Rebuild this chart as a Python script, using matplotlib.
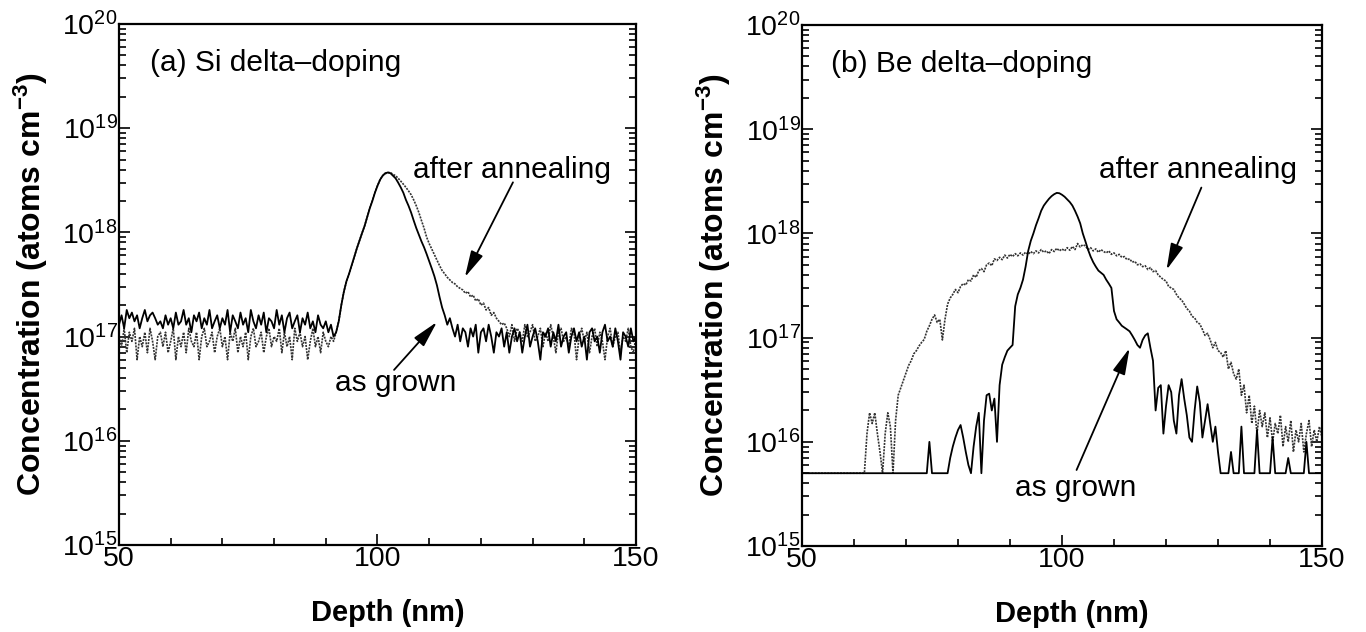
import numpy as np
import matplotlib.pyplot as plt
from matplotlib.ticker import LogLocator, MultipleLocator, LogFormatterSciNotation, NullFormatter

plt.rcParams['font.family'] = ['Liberation Sans', 'DejaVu Sans']
plt.rcParams['mathtext.default'] = 'regular'

# depth grid of the SIMS profiles (nm), 0.5 nm steps
depth = np.arange(50, 150.01, 0.5)

# (a) Si delta-doping, units of 1e17 atoms/cm3
si_grown = [
    1.3, 1.6, 1.2, 1.8, 1.5, 1.7, 1.4, 1.6, 1.2, 1.5,   # 50
    1.8, 1.4, 1.6, 1.7, 1.5, 1.3, 1.4, 1.2, 1.6, 1.3,   # 55
    1.5, 1.2, 1.7, 1.3, 1.4, 1.8, 1.3, 1.5, 1.1, 1.6,   # 60
    1.4, 1.7, 1.2, 1.5, 1.3, 1.8, 1.2, 1.4, 1.6, 1.2,   # 65
    1.5, 1.3, 1.8, 1.1, 1.6, 1.4, 1.2, 1.7, 1.3, 1.5,   # 70
    1.1, 1.8, 1.4, 1.2, 1.6, 1.3, 1.7, 1.1, 1.5, 1.4,   # 75
    1.2, 1.8, 1.3, 1.6, 1.1, 1.5, 1.7, 1.2, 1.4, 1.6,   # 80
    1.1, 1.5, 1.3, 1.7, 1.2, 1.4, 1.1, 1.6, 1.3, 1.2,   # 85
    1.4, 1.1, 1.3, 1.0, 1.1, 1.4, 2.0, 2.7, 3.4, 4.0,   # 90
    4.8, 5.8, 7.0, 8.3, 9.8, 11.5, 14, 17, 20, 24,      # 95
    28, 32, 35, 37, 37.5, 37, 35, 33, 30, 27,           # 100
    24, 20.5, 18, 15.5, 13, 11, 9.5, 8.2, 7.2, 6.2,     # 105
    5.3, 4.5, 3.8, 3.1, 2.4, 1.9, 1.6, 1.3, 1.5, 1.2,   # 110
    1.0, 1.3, 0.9, 1.2, 1.1, 0.8, 1.2, 1.0, 1.3, 0.7,   # 115
    1.1, 1.2, 0.9, 1.3, 1.0, 0.7, 1.1, 1.0, 1.2, 0.8,   # 120
    1.1, 0.7, 1.0, 1.2, 0.9, 1.1, 0.7, 1.0, 1.3, 0.8,   # 125
    1.0, 1.2, 0.9, 0.6, 1.1, 1.0, 1.2, 0.8, 1.1, 0.9,   # 130
    1.3, 0.8, 1.0, 1.1, 0.7, 1.0, 1.2, 0.9, 1.1, 0.8,   # 135
    1.0, 0.6, 1.1, 1.2, 0.9, 1.0, 0.7, 1.1, 1.3, 0.9,   # 140
    1.0, 0.8, 1.2, 0.9, 0.6, 1.1, 1.0, 0.8, 1.2, 0.9,   # 145
    1.0,
]
si_annealed = [
    1.0, 0.8, 1.2, 0.7, 1.1, 0.9, 1.2, 0.6, 1.0, 0.8,   # 50
    1.1, 0.7, 1.2, 0.9, 0.6, 1.0, 1.1, 0.8, 1.1, 0.7,   # 55
    0.9, 1.2, 0.6, 1.0, 0.8, 1.1, 0.7, 1.2, 0.9, 0.8,   # 60
    1.1, 0.6, 1.0, 1.2, 0.8, 0.9, 1.1, 0.7, 1.0, 1.2,   # 65
    0.8, 1.0, 0.6, 1.1, 0.9, 1.2, 0.7, 1.0, 0.8, 1.1,   # 70
    0.6, 1.0, 1.2, 0.8, 0.9, 1.1, 0.7, 1.0, 1.2, 0.8,   # 75
    1.0, 0.9, 1.2, 0.7, 1.1, 0.8, 1.0, 0.6, 1.2, 0.9,   # 80
    1.1, 0.8, 1.0, 0.6, 0.9, 1.2, 0.8, 1.0, 0.7, 1.1,   # 85
    0.9, 0.8, 1.0, 0.9, 1.1, 1.4, 2.0, 2.7, 3.4, 4.0,   # 90
    4.8, 5.8, 7.0, 8.3, 9.8, 11.5, 14, 17, 20, 24,      # 95
    28, 32, 35, 36.5, 37.5, 37.5, 36, 35, 33, 31,       # 100
    29, 27, 25, 23, 20.5, 18, 15.5, 13, 11, 9.0,        # 105
    7.8, 6.9, 6.1, 5.4, 4.8, 4.3, 4.0, 3.7, 3.5, 3.3,   # 110
    3.2, 3.0, 2.9, 2.8, 2.6, 2.7, 2.4, 2.5, 2.2, 2.3,   # 115
    2.0, 2.1, 1.8, 1.9, 1.6, 1.7, 1.5, 1.4, 1.3, 1.35,  # 120
    1.2, 1.0, 1.3, 0.9, 1.2, 1.1, 0.9, 1.3, 1.0, 1.1,   # 125
    1.3, 0.9, 1.0, 1.2, 0.8, 1.1, 0.9, 1.3, 1.0, 0.7,   # 130
    1.1, 1.2, 0.9, 1.0, 0.8, 1.2, 1.1, 0.6, 1.0, 1.2,   # 135
    0.9, 1.1, 0.7, 1.0, 1.2, 0.8, 1.1, 0.9, 0.6, 1.0,   # 140
    1.2, 0.8, 1.0, 1.1, 0.7, 1.0, 0.9, 1.2, 0.8, 0.7,   # 145
    1.0,
]

# (b) Be delta-doping, units of 1e16 atoms/cm3 (detection floor 5e15)
be_grown = [
    0.5, 0.5, 0.5, 0.5, 0.5, 0.5, 0.5, 0.5, 0.5, 0.5,   # 50
    0.5, 0.5, 0.5, 0.5, 0.5, 0.5, 0.5, 0.5, 0.5, 0.5,   # 55
    0.5, 0.5, 0.5, 0.5, 0.5, 0.5, 0.5, 0.5, 0.5, 0.5,   # 60
    0.5, 0.5, 0.5, 0.5, 0.5, 0.5, 0.5, 0.5, 0.5, 0.5,   # 65
    0.5, 0.5, 0.5, 0.5, 0.5, 0.5, 0.5, 0.5, 0.5, 1.0,   # 70
    0.5, 0.5, 0.5, 0.5, 0.5, 0.5, 0.5, 0.7, 0.9, 1.1,   # 75
    1.3, 1.45, 1.1, 0.8, 0.6, 0.5, 0.9, 1.4, 1.9, 0.5,  # 80
    1.6, 2.8, 2.9, 2.0, 2.6, 1.0, 3.5, 5.5, 6.5, 7.5,   # 85
    8.0, 8.5, 20, 26, 30, 36, 48, 68, 85, 100,          # 90
    120, 140, 165, 185, 200, 215, 228, 238, 245, 243,   # 95
    235, 225, 212, 200, 185, 165, 145, 125, 100, 84,    # 100
    70, 60, 53, 48, 44, 42, 40, 36, 33, 30,             # 105
    18, 15, 14, 13, 12.5, 12, 11.5, 10.5, 9.5, 8.5,     # 110
    8.0, 9.5, 10.5, 11, 8.0, 6.0, 2.0, 3.3, 3.5, 1.2,   # 115
    2.2, 3.5, 3.0, 1.6, 1.2, 2.8, 4.0, 2.6, 1.8, 1.1,   # 120
    1.0, 2.0, 3.4, 2.4, 1.1, 1.6, 2.3, 1.5, 1.0, 1.4,   # 125
    0.8, 0.5, 0.5, 0.5, 0.5, 0.8, 0.5, 0.5, 0.5, 1.4,   # 130
    0.5, 0.5, 0.5, 0.5, 0.5, 1.3, 0.5, 0.5, 0.5, 0.5,   # 135
    0.5, 1.1, 0.5, 0.5, 0.5, 0.5, 0.5, 0.7, 0.5, 0.5,   # 140
    0.5, 0.5, 0.5, 0.5, 1.0, 0.5, 0.5, 0.5, 0.5, 0.5,   # 145
    0.5,
]
be_annealed = [
    0.5, 0.5, 0.5, 0.5, 0.5, 0.5, 0.5, 0.5, 0.5, 0.5,   # 50
    0.5, 0.5, 0.5, 0.5, 0.5, 0.5, 0.5, 0.5, 0.5, 0.5,   # 55
    0.5, 0.5, 0.5, 0.5, 0.5, 1.2, 1.9, 1.5, 1.9, 1.2,   # 60
    0.8, 0.5, 1.2, 1.9, 1.4, 0.5, 1.6, 2.8, 3.3, 3.9,   # 65
    4.6, 5.4, 6.0, 7.0, 7.5, 8.3, 9.0, 9.6, 11.5, 13,   # 70
    15, 16.5, 14, 15, 9.5, 15, 21, 24, 26, 29,          # 75
    27, 31, 33, 32, 36, 35, 40, 38, 44, 46,             # 80
    43, 50, 52, 49, 57, 55, 59, 56, 62, 58,             # 85
    63, 60, 64, 61, 65, 62, 66, 63, 67, 64,             # 90
    68, 65, 70, 66, 68, 64, 70, 67, 72, 68,             # 95
    71, 68, 73, 69, 75, 70, 80, 74, 78, 76,             # 100
    70, 73, 68, 71, 66, 70, 67, 65, 68, 63,             # 105
    65, 61, 63, 59, 60, 56, 57, 53, 54, 50,             # 110
    51, 48, 49, 45, 47, 43, 44, 40, 38, 36,             # 115
    35, 31, 30, 29, 26, 24, 23, 21, 19, 18,             # 120
    16, 15.5, 14, 13.5, 12, 10.5, 11, 9.5, 8.0, 9.0,    # 125
    7.5, 7.2, 6.5, 7.5, 5.0, 5.8, 4.5, 4.0, 5.0, 2.8,   # 130
    3.5, 1.9, 2.8, 1.5, 2.2, 1.2, 2.0, 1.4, 1.9, 1.1,   # 135
    1.7, 1.0, 1.5, 1.2, 1.8, 0.9, 1.4, 1.0, 1.6, 0.8,   # 140
    1.3, 1.0, 1.5, 0.8, 1.2, 1.6, 0.9, 1.3, 1.0, 1.4,   # 145
    1.1,
]

fig = plt.figure(figsize=(13.66, 6.32), dpi=100)
ax1 = fig.add_axes([0.0871, 0.1377, 0.3785, 0.8244])
ax2 = fig.add_axes([0.5871, 0.136, 0.3807, 0.8244])

dotted = (0, (1.2, 0.7))


def style_axis(ax):
    ax.set_xlim(50, 150)
    ax.set_yscale('log')
    ax.set_ylim(1e15, 1e20)
    ax.xaxis.set_major_locator(MultipleLocator(50))
    ax.xaxis.set_minor_locator(MultipleLocator(10))
    ax.yaxis.set_major_locator(LogLocator(base=10, numticks=10))
    ax.yaxis.set_minor_locator(LogLocator(base=10, subs=np.arange(2, 10), numticks=10))
    ax.yaxis.set_major_formatter(LogFormatterSciNotation())
    ax.yaxis.set_minor_formatter(NullFormatter())
    ax.tick_params(which='both', direction='in', labelsize=20.5, width=1.2,
                   bottom=True, top=False, left=True, right=True, pad=1)
    ax.tick_params(which='major', length=8)
    ax.tick_params(which='minor', length=5)
    for s in ax.spines.values():
        s.set_linewidth(1.6)
    ax.set_xlabel('Depth (nm)', fontsize=21, fontweight='bold')
    ax.xaxis.set_label_coords(0.519, -0.104)
    ax.set_ylabel(r'Concentration (atoms cm$^{-3}$)', fontsize=23,
                  fontweight='bold', labelpad=9)


def arrow(ax, tail, head):
    ax.annotate('', xy=head, xytext=tail,
                arrowprops=dict(arrowstyle='-|>,head_length=0.9,head_width=0.22',
                                color='k', lw=1.3, mutation_scale=18,
                                shrinkA=0, shrinkB=0))


# (a) Si
ax1.plot(depth, np.array(si_annealed) * 1e17, color='#333333', lw=1.2, ls=dotted)
ax1.plot(depth, np.array(si_grown) * 1e17, color='k', lw=1.3)
style_axis(ax1)
ax1.text(0.06, 0.925, '(a) Si delta\u2013doping', transform=ax1.transAxes,
         fontsize=21.5, va='center', ha='left')
ax1.text(126, 10**18.6, 'after annealing', fontsize=21.5, ha='center', va='center')
arrow(ax1, (126.2, 10**18.48), (116.9, 10**17.57))
ax1.text(103.6, 10**16.55, 'as grown', fontsize=21.5, ha='center', va='center')
arrow(ax1, (103.2, 10**16.68), (111.5, 10**17.14))

# (b) Be
ax2.plot(depth, np.array(be_annealed) * 1e16, color='#333333', lw=1.2, ls=dotted)
ax2.plot(depth, np.array(be_grown) * 1e16, color='k', lw=1.3)
style_axis(ax2)
ax2.text(0.055, 0.925, '(b) Be delta\u2013doping', transform=ax2.transAxes,
         fontsize=21.5, va='center', ha='left')
ax2.text(126.1, 10**18.61, 'after annealing', fontsize=21.5, ha='center', va='center')
arrow(ax2, (126.8, 10**18.44), (120.1, 10**17.65))
ax2.text(102.7, 10**15.56, 'as grown', fontsize=21.5, ha='center', va='center')
arrow(ax2, (102.8, 10**15.73), (113.0, 10**16.9))

fig.savefig('out.png', dpi=100)
